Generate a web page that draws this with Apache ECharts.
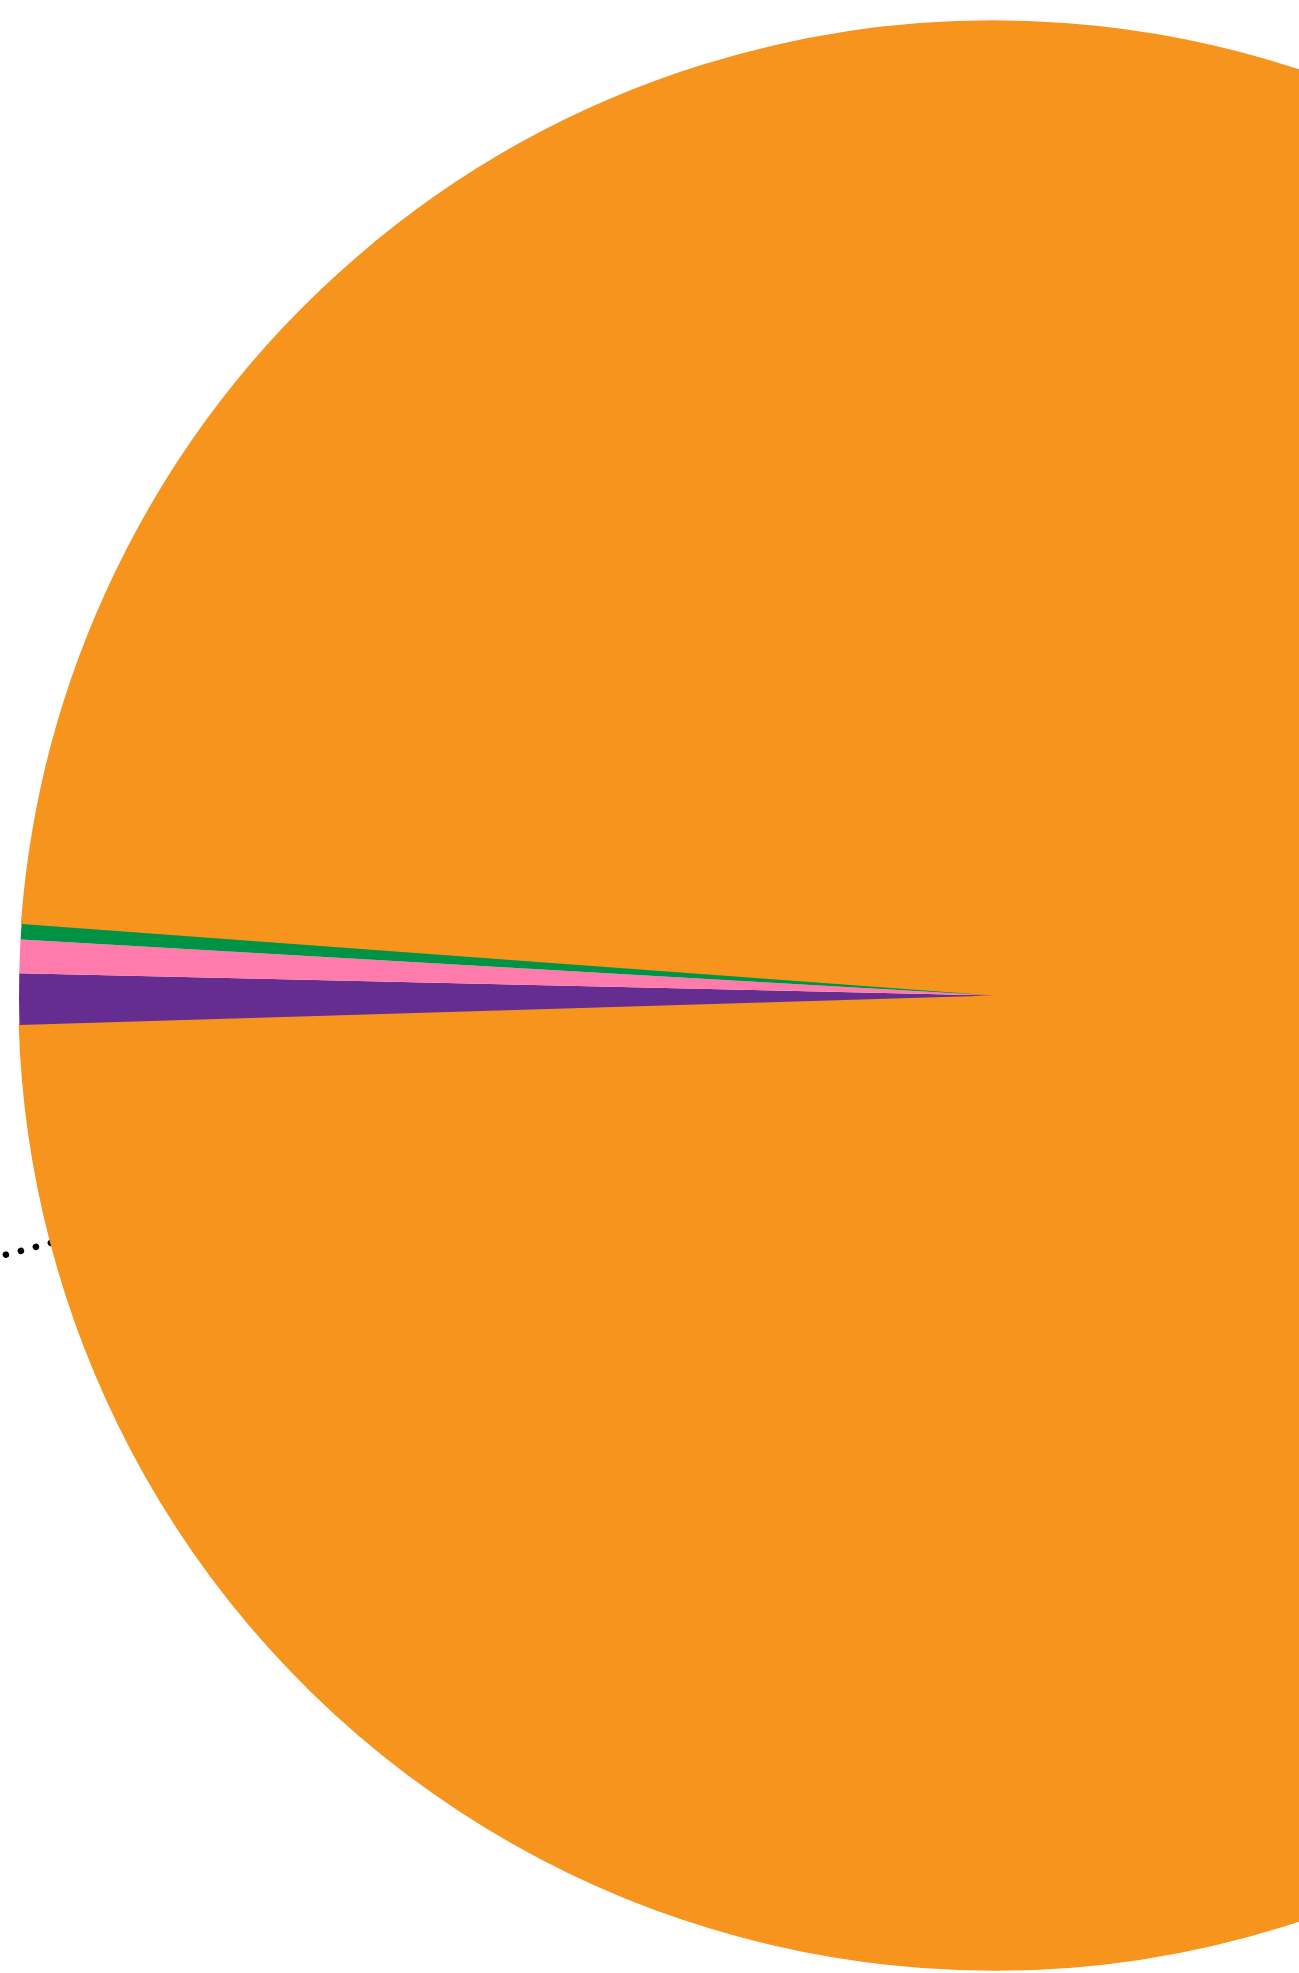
<!DOCTYPE html>
<html>
<head>
<meta charset="utf-8">
<style>
  html, body { margin: 0; padding: 0; background: #ffffff; }
  #chart { width: 1299px; height: 1973px; }
</style>
<script src="https://cdn.jsdelivr.net/npm/echarts@6/dist/echarts.min.js"></script>
</head>
<body>
<div id="chart"></div>
<script>
// Slice data (percent of whole), clockwise from the start angle
const categories = ['Segment A', 'Segment B', 'Segment C', 'Segment D', 'Segment E'];
const values     = [91.14, 7.21, 0.844, 0.553, 0.253];
const colors     = ['#F7941E', '#F7941E', '#662D91', '#FF7BAC', '#009245'];
const showLabel  = [false, true, false, false, false];

const chart = echarts.init(document.getElementById('chart'), null, { renderer: 'canvas' });

const data = categories.map((name, i) => ({
  name: name,
  value: values[i],
  itemStyle: i < 2
    ? { color: colors[i], borderColor: colors[i], borderWidth: 1.5 }
    : { color: colors[i], borderWidth: 0 },
  label: { show: showLabel[i] },
  labelLine: { show: showLabel[i] }
}));

chart.setOption({
  backgroundColor: '#ffffff',
  animation: false,
  series: [{
    type: 'pie',
    center: [993.5, 995.5],
    radius: 974.5,
    startAngle: 175.79,
    clockwise: true,
    avoidLabelOverlap: false,
    label: {
      position: 'outside',
      color: '#000000',
      fontFamily: 'Liberation Sans',
      fontSize: 14,
      formatter: '{b}'
    },
    labelLine: {
      length: 80,
      length2: 40,
      lineStyle: {
        color: '#000000',
        width: 6.5,
        type: [0.1, 15.4],
        cap: 'round'
      }
    },
    emphasis: { disabled: true },
    data: data
  }]
});
</script>
</body>
</html>
